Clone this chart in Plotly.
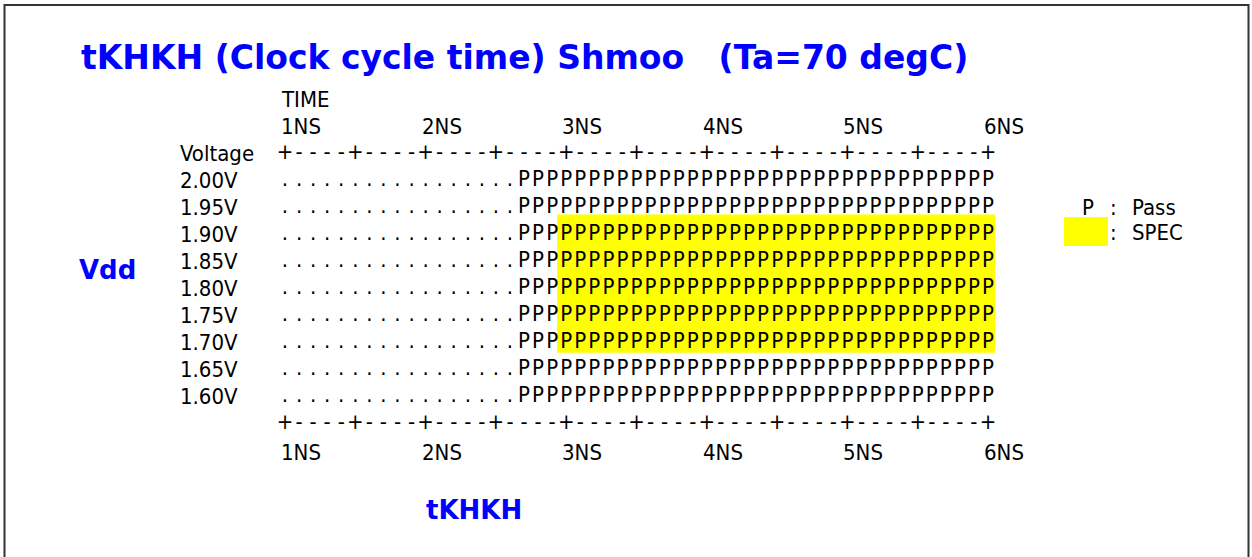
import plotly.graph_objects as go

# ---------------- data ----------------
time_ns = [1.0, 1.1, 1.2, 1.3, 1.4, 1.5, 1.6, 1.7, 1.8, 1.9,
           2.0, 2.1, 2.2, 2.3, 2.4, 2.5, 2.6, 2.7, 2.8, 2.9,
           3.0, 3.1, 3.2, 3.3, 3.4, 3.5, 3.6, 3.7, 3.8, 3.9,
           4.0, 4.1, 4.2, 4.3, 4.4, 4.5, 4.6, 4.7, 4.8, 4.9,
           5.0, 5.1, 5.2, 5.3, 5.4, 5.5, 5.6, 5.7, 5.8, 5.9,
           6.0]
vdd_values = [2.00, 1.95, 1.90, 1.85, 1.80, 1.75, 1.70, 1.65, 1.60]
vdd_labels = ["2.00V", "1.95V", "1.90V", "1.85V", "1.80V",
              "1.75V", "1.70V", "1.65V", "1.60V"]
# one string per Vdd row, one character per time step ('.' = fail, 'P' = pass)
shmoo_rows = [
    ".................PPPPPPPPPPPPPPPPPPPPPPPPPPPPPPPPPP",
    ".................PPPPPPPPPPPPPPPPPPPPPPPPPPPPPPPPPP",
    ".................PPPPPPPPPPPPPPPPPPPPPPPPPPPPPPPPPP",
    ".................PPPPPPPPPPPPPPPPPPPPPPPPPPPPPPPPPP",
    ".................PPPPPPPPPPPPPPPPPPPPPPPPPPPPPPPPPP",
    ".................PPPPPPPPPPPPPPPPPPPPPPPPPPPPPPPPPP",
    ".................PPPPPPPPPPPPPPPPPPPPPPPPPPPPPPPPPP",
    ".................PPPPPPPPPPPPPPPPPPPPPPPPPPPPPPPPPP",
    ".................PPPPPPPPPPPPPPPPPPPPPPPPPPPPPPPPPP",
]
tick_values = [1, 2, 3, 4, 5, 6]
tick_labels = ["1NS", "2NS", "3NS", "4NS", "5NS", "6NS"]
spec_time = [3.0, 6.0]     # ns
spec_vdd = [1.70, 1.90]    # V
title_text = "tKHKH (Clock cycle time) Shmoo\u00a0\u00a0 (Ta=70 degC)"

# ---------------- style ----------------
MONO = "DejaVu Sans Condensed, DejaVu Sans, sans-serif"
BOLD = "DejaVu Sans, Liberation Sans, Arial, sans-serif"
BLUE = "#0000FF"
FS = 22
ROW = 0.05           # vdd step between text rows
HALF_T = 0.05        # half a time cell
LABEL_X = 0.245      # column of the voltage labels (in ns units)

fig = go.Figure()

# SPEC window (yellow)
fig.add_shape(type="rect", xref="x", yref="y",
              x0=spec_time[0] - HALF_T - 0.015, x1=spec_time[1] + HALF_T,
              y0=spec_vdd[0] - ROW / 2 + 0.005, y1=spec_vdd[1] + ROW / 2 + 0.011,
              fillcolor="#FFFF00", line=dict(width=0), layer="below")

# shmoo cells
xs, ys, ts = [], [], []
for v, row in zip(vdd_values, shmoo_rows):
    for t, ch in zip(time_ns, row):
        xs.append(t)
        ys.append(v)
        ts.append(ch)
fig.add_trace(go.Scatter(x=xs, y=ys, text=ts, mode="text",
                         textposition="middle center",
                         textfont=dict(family=MONO, size=FS, color="black"),
                         hoverinfo="skip", showlegend=False, cliponaxis=False))

# axis rules "+----+----+" top and bottom
rule_chars = ["+" if round(t * 10) % 5 == 0 else "-" for t in time_ns]
top_rule_y = vdd_values[0] + ROW
bot_rule_y = vdd_values[-1] - ROW
for ry in (top_rule_y, bot_rule_y):
    fig.add_trace(go.Scatter(x=time_ns, y=[ry] * len(time_ns), text=rule_chars,
                             mode="text", textposition="middle center",
                             textfont=dict(family=MONO, size=FS, color="black"),
                             hoverinfo="skip", showlegend=False, cliponaxis=False))

annotations = []
def ann(text, x, y, xref="x", yref="y", font=None, xanchor="left", yanchor="middle"):
    annotations.append(dict(text=text, x=x, y=y, xref=xref, yref=yref,
                            xanchor=xanchor, yanchor=yanchor, showarrow=False,
                            borderpad=0,
                            font=font or dict(family=MONO, size=FS, color="black")))

# tick labels top & bottom
for tv, tl in zip(tick_values, tick_labels):
    ann(tl, tv - 0.035, vdd_values[0] + 2 * ROW)
    ann(tl, tv - 0.035, vdd_values[-1] - 2 * ROW - 0.004)
ann("TIME", time_ns[0] - 0.035, vdd_values[0] + 3 * ROW)
ann("Voltage", LABEL_X, top_rule_y)
for v, lab in zip(vdd_values, vdd_labels):
    ann(lab, LABEL_X, v)

# legend
ann("P", 6.711, vdd_values[1], xanchor="center")
ann(":", 6.896, vdd_values[1], xanchor="center")
ann("Pass", 7.02, vdd_values[1])
fig.add_shape(type="rect", xref="x", yref="y",
              x0=6.54, x1=6.853, y0=1.8778, y1=1.9315,
              fillcolor="#FFFF00", line=dict(width=0))
ann(":", 6.896, 1.9037, xanchor="center")
ann("SPEC", 7.02, 1.9037)

# blue texts
ann(title_text, 80 / 1252, 1 - 58 / 557, xref="paper", yref="paper",
    font=dict(family=BOLD, size=33, color=BLUE, weight="bold"))
ann("Vdd", 78 / 1252, 1 - 270 / 557, xref="paper", yref="paper",
    font=dict(family=BOLD, size=26, color=BLUE, weight="bold"))
ann("tKHKH", 425 / 1252, 1 - 510 / 557, xref="paper", yref="paper",
    font=dict(family=BOLD, size=26, color=BLUE, weight="bold"))

# page border
fig.add_shape(type="rect", xref="paper", yref="paper",
              x0=4.5 / 1252, x1=1248.5 / 1252, y0=-0.05, y1=1 - 5 / 557,
              line=dict(color="#333333", width=2))

# px = 285 + 140.6*(t-1);  py = 180 + 540*(2.00 - v)
fig.update_layout(
    width=1252, height=557,
    margin=dict(l=0, r=0, t=0, b=0),
    paper_bgcolor="white", plot_bgcolor="white",
    xaxis=dict(range=[1 - 285 / 140.6, 1 + (1252 - 285) / 140.6], visible=False, fixedrange=True),
    yaxis=dict(range=[2.00 - 377 / 540, 2.00 + 180 / 540], visible=False, fixedrange=True),
    annotations=annotations,
    showlegend=False,
)

fig.write_html("out.html", config={"displayModeBar": False},
               post_script="document.body.style.margin='0px';document.body.style.overflow='hidden';")
